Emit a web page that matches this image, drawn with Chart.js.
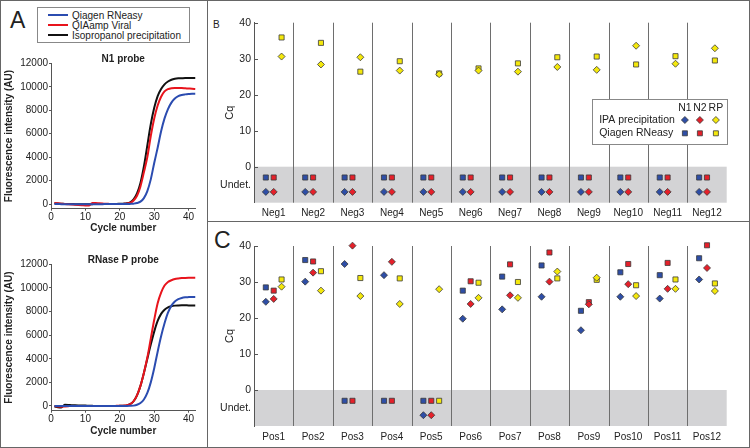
<!DOCTYPE html>
<html>
<head>
<meta charset="utf-8">
<script src="https://cdn.jsdelivr.net/npm/chart.js@4.4.0/dist/chart.umd.min.js"></script>
<style>
  body { margin: 0; background: #fff; }
  #page { position: relative; width: 750px; height: 448px; overflow: hidden; font-family: 'Liberation Sans', Arial, sans-serif; color: #222; }
  canvas { position: absolute; }
  .line { position: absolute; background: #666; }
  .letter { position: absolute; line-height: 1; color: #222; }
  #legA { position: absolute; left: 37px; top: 7px; width: 153px; height: 36px; box-sizing: border-box; border: 1px solid #888; font-size: 10px; }
  #legA div { position: absolute; left: 10px; height: 10px; line-height: 10px; white-space: nowrap; }
  #legA span { display: inline-block; width: 20px; height: 2px; vertical-align: middle; margin-right: 4px; position: relative; top: -1px; }
</style>
</head>
<body>
<div id="page">
  <div class="line" style="left:0;top:0;width:750px;height:1px"></div>
  <div class="line" style="left:0;top:447px;width:750px;height:1px"></div>
  <div class="line" style="left:0;top:0;width:1px;height:448px"></div>
  <div class="line" style="left:749px;top:0;width:1px;height:448px"></div>
  <div class="line" style="left:207px;top:0;width:1px;height:448px"></div>
  <div class="line" style="left:207px;top:221px;width:543px;height:1px"></div>

  <div class="letter" style="left:10px;top:9px;font-size:23px">A</div>
  <div class="letter" style="left:213px;top:20px;font-size:10px">B</div>
  <div class="letter" style="left:214px;top:229px;font-size:23px">C</div>

  <div id="legA">
    <div style="top:3px"><span style="background:#2b4cb0"></span>Qiagen RNeasy</div>
    <div style="top:13px"><span style="background:#e8141c"></span>QIAamp Viral</div>
    <div style="top:23px"><span style="background:#111"></span>Isopropanol precipitation</div>
  </div>

  <canvas id="n1" width="207" height="195" style="left:0;top:45px"></canvas>
  <canvas id="rp" width="207" height="208" style="left:0;top:240px"></canvas>
  <canvas id="neg" width="543" height="221" style="left:207px;top:0"></canvas>
  <canvas id="pos" width="543" height="227" style="left:207px;top:221px"></canvas>
</div>
<script>
const FONT = "'Liberation Sans', Arial, sans-serif";
Chart.defaults.font.family = FONT;
Chart.defaults.color = '#222';

// ---- panel A: amplification curves ----
const cycles = [1, 2, 3, 4, 5, 6, 7, 8, 9, 10, 11, 12, 13, 14, 15, 16, 17, 18, 19, 20, 21,
  22, 23, 24, 25, 26, 27, 28, 29, 30, 31, 32, 33, 34, 35, 36, 37, 38, 39, 40, 41, 42];
const cycleTicks = [0, 10, 20, 30, 40];
const fluoTicks = [0, 2000, 4000, 6000, 8000, 10000, 12000];

const n1Qiagen = [0, 0, -10, -10, -20, -20, -20, -20, -20, -20, -20, -20, -10, -10, -10, 0, 0, 0, 0, 0, 0,
  0, 10, 30, 80, 200, 500, 1100, 2100, 3500, 4800, 6200, 7300, 8100, 8650, 9000, 9200, 9300, 9350, 9380, 9400, 9400];
const n1Qiaamp = [80, 60, 30, 0, -20, -40, -60, -80, -100, -120, -130, 90, 80, 60, 40, 20, 10, 0, 0, 0, 10,
  30, 100, 300, 700, 1500, 2700, 4000, 5800, 7300, 8400, 9150, 9600, 9800, 9880, 9900, 9900, 9890, 9870, 9850, 9830, 9800];
const n1Ipa = [60, 40, 20, 10, 0, 0, -10, -10, -20, -20, -20, -10, 0, 0, 0, 0, 0, 10, 10, 20, 30,
  60, 150, 400, 900, 1800, 3200, 5000, 6800, 8200, 9200, 9800, 10200, 10450, 10600, 10680, 10720, 10730, 10740, 10740, 10740, 10740];

const rpQiagen = [0, 0, 0, 0, 0, 0, 0, 0, 0, 0, 0, 0, 0, 0, 0, 0, 0, 0, 0, 0, 0,
  0, 10, 30, 100, 250, 550, 1100, 2000, 3200, 4600, 5900, 7000, 7900, 8500, 8850, 9050, 9150, 9200, 9220, 9230, 9230];
const rpQiaamp = [0, -50, -60, -40, -20, 0, 0, 0, 0, 0, 0, 0, 0, 0, 0, 0, 0, 0, 10, 20, 30,
  60, 150, 400, 900, 1700, 2800, 4100, 5700, 7300, 8700, 9600, 10200, 10500, 10650, 10750, 10800, 10830, 10850, 10860, 10860, 10860];
const rpIpa = [-50, -100, -120, 100, 90, 70, 60, 50, 40, 30, 20, 10, 0, 0, 0, 0, 0, 0, 0, 10, 20,
  50, 150, 400, 900, 1700, 2800, 4000, 5200, 6300, 7200, 7800, 8150, 8350, 8450, 8500, 8520, 8530, 8530, 8520, 8520, 8510];

// ---- panels B, C: Cq values (null = undetermined) ----
const negSamples = ['Neg1', 'Neg2', 'Neg3', 'Neg4', 'Neg5', 'Neg6', 'Neg7', 'Neg8', 'Neg9', 'Neg10', 'Neg11', 'Neg12'];
const posSamples = ['Pos1', 'Pos2', 'Pos3', 'Pos4', 'Pos5', 'Pos6', 'Pos7', 'Pos8', 'Pos9', 'Pos10', 'Pos11', 'Pos12'];
const cqTicks = [-5, 0, 10, 20, 30, 40];

const negN1Ipa = [null, null, null, null, null, null, null, null, null, null, null, null];
const negN1Qiagen = [null, null, null, null, null, null, null, null, null, null, null, null];
const negN2Ipa = [null, null, null, null, null, null, null, null, null, null, null, null];
const negN2Qiagen = [null, null, null, null, null, null, null, null, null, null, null, null];
const negRpIpa = [30.6, 28.4, 30.4, 26.7, 25.7, 26.7, 26.4, 27.7, 26.9, 33.6, 28.6, 32.9];
const negRpQiagen = [35.9, 34.4, 26.4, 29.3, 25.9, 27.3, 28.7, 30.4, 30.6, 28.4, 30.7, 29.5];

const posN1Ipa = [24.5, 30.1, 35.0, 31.9, null, 19.8, 22.4, 25.9, 16.6, 25.9, 25.4, 30.7];
const posN1Qiagen = [28.5, 36.1, null, null, null, 27.6, 31.5, 34.6, 22.0, 32.7, 31.9, 36.6];
const posN2Ipa = [25.3, 32.6, 40.1, 35.6, null, 23.9, 26.3, 30.1, 23.8, 29.4, 28.1, 33.9];
const posN2Qiagen = [27.6, 35.7, null, null, null, 30.2, 34.9, 38.2, 24.4, 35.0, 35.3, 40.2];
const posRpIpa = [28.7, 27.6, 26.1, 23.9, 28.0, 25.6, 25.6, 32.9, 31.2, 26.1, 28.1, 27.5];
const posRpQiagen = [30.7, 33.0, 31.1, 31.0, null, 29.8, 30.0, 31.0, 30.6, 29.1, 30.7, 29.6];

const BLUE = '#2e4ea6', RED = '#e5202a', YELLOW = '#f4e80c', EDGE = '#3a3a3a';

// titre au-dessus de la zone de tracé
const panelTitle = {
  id: 'panelTitle',
  afterDraw(chart, args, opts) {
    const { ctx, chartArea } = chart;
    ctx.save();
    ctx.font = 'bold 10px ' + FONT;
    ctx.fillStyle = '#222';
    ctx.textAlign = 'center';
    ctx.textBaseline = 'middle';
    ctx.fillText(opts.text, (chartArea.left + chartArea.right) / 2, chartArea.top - 4);
    ctx.restore();
  }
};

function curveChart(id, title, curves, pad, xH, titlePadB) {
  new Chart(document.getElementById(id), {
    type: 'line',
    data: {
      datasets: curves.map(c => ({
        data: c.values.map((v, i) => ({ x: cycles[i], y: v })),
        borderColor: c.color,
        borderWidth: 2,
        pointRadius: 0,
        cubicInterpolationMode: 'monotone'
      }))
    },
    options: {
      responsive: false, animation: false, devicePixelRatio: 1,
      layout: { padding: pad },
      plugins: { legend: { display: false }, tooltip: { enabled: false }, panelTitle: { text: title } },
      scales: {
        x: {
          type: 'linear', min: 0, max: 42,
          afterBuildTicks: s => { s.ticks = cycleTicks.map(v => ({ value: v })); },
          afterFit: s => { s.height = xH; },
          grid: { drawOnChartArea: false, tickLength: 2, color: '#555' },
          border: { color: '#555' },
          ticks: { padding: 1, maxRotation: 0, font: { size: 10 }, callback: v => String(v) },
          title: { display: true, text: 'Cycle number', font: { size: 10, weight: 'bold' }, padding: { top: 0, bottom: titlePadB } }
        },
        y: {
          min: -400, max: 12000,
          afterBuildTicks: s => { s.ticks = fluoTicks.map(v => ({ value: v })); },
          afterFit: s => { s.width = 51; },
          grid: { drawOnChartArea: false, tickLength: 2, color: '#555' },
          border: { color: '#555' },
          ticks: { padding: 1, font: { size: 10 }, callback: v => String(v) },
          title: { display: true, text: 'Fluorescence intensity (AU)', font: { size: 10, weight: 'bold' }, padding: { top: 3, bottom: 0 } }
        }
      }
    },
    plugins: [panelTitle]
  });
}

curveChart('n1', 'N1 probe', [
  { values: n1Qiagen, color: '#2b4cb0' },
  { values: n1Qiaamp, color: '#e8141c' },
  { values: n1Ipa, color: '#111' }
], { top: 18.3, right: 11.5, bottom: 3, left: 0 }, 28.3, 2.5);

curveChart('rp', 'RNase P probe', [
  { values: rpQiagen, color: '#2b4cb0' },
  { values: rpQiaamp, color: '#e8141c' },
  { values: rpIpa, color: '#111' }
], { top: 24.3, right: 11.5, bottom: 8, left: 0 }, 29.3, 2.7);

// ---- Cq panels ----
function drawMarker(ctx, style, x, y, fill) {
  ctx.beginPath();
  if (style === 'rectRot') {
    ctx.moveTo(x - 3.5, y); ctx.lineTo(x, y - 3.5); ctx.lineTo(x + 3.5, y); ctx.lineTo(x, y + 3.5); ctx.closePath();
  } else {
    ctx.rect(x - 2.5, y - 2.5, 5, 5);
  }
  ctx.fillStyle = fill; ctx.fill();
  ctx.lineWidth = 0.8; ctx.strokeStyle = EDGE; ctx.stroke();
}

const cqDecor = {
  id: 'cqDecor',
  beforeDraw(chart) {
    const { ctx, chartArea: a, scales: { y } } = chart;
    ctx.save();
    ctx.fillStyle = '#d3d3d5';
    ctx.fillRect(a.left, y.getPixelForValue(0), a.right - a.left, a.bottom - y.getPixelForValue(0));
    ctx.restore();
  },
  beforeDatasetsDraw(chart) {
    const { ctx, chartArea: a, scales: { x, y } } = chart;
    ctx.save();
    ctx.strokeStyle = '#6e6e6e';
    ctx.lineWidth = 1;
    for (let i = 1; i < 12; i++) {
      const px = Math.round(x.getPixelForValue(i + 0.5)) + 0.5;
      ctx.beginPath(); ctx.moveTo(px, a.top); ctx.lineTo(px, a.bottom); ctx.stroke();
    }
    ctx.strokeStyle = '#555';
    [0, 10, 20, 30, 40].forEach(v => {
      const py = Math.round(y.getPixelForValue(v)) + 0.5;
      ctx.beginPath(); ctx.moveTo(a.left, py); ctx.lineTo(a.left + 4, py); ctx.stroke();
    });
    ctx.restore();
  },
  afterDatasetsDraw(chart, args, opts) {
    if (!opts.legend) return;
    const { ctx, chartArea: a } = chart;
    const r = a.right + 0.5, l = r - 135, t = a.top + 76.6, h = 44.7;
    ctx.save();
    ctx.fillStyle = '#fff';
    ctx.fillRect(l, t, r - l, h);
    ctx.strokeStyle = '#888'; ctx.lineWidth = 1;
    ctx.strokeRect(Math.round(l) + 0.5, Math.round(t) + 0.5, Math.round(r - l), Math.round(h));
    ctx.font = '10.5px ' + FONT;
    ctx.fillStyle = '#222';
    ctx.textBaseline = 'middle';
    const cols = [r - 42.3, r - 27.3, r - 11.3];
    ctx.textAlign = 'center';
    ['N1', 'N2', 'RP'].forEach((s, i) => ctx.fillText(s, cols[i], t + 9));
    ctx.textAlign = 'left';
    ctx.fillText('IPA precipitation', l + 7, t + 20.7);
    ctx.fillText('Qiagen RNeasy', l + 7, t + 34);
    [BLUE, RED, YELLOW].forEach((c, i) => {
      drawMarker(ctx, 'rectRot', cols[i], t + 20.7, c);
      drawMarker(ctx, 'rect', cols[i], t + 34, c);
    });
    ctx.restore();
  }
};

// undetermined values sit on a fixed row of the grey band
const UNDET_ROW = { rect: -3, rectRot: -7 };
const OFFSET = { N1: -0.2, N2: 0, RP: 0.2 };

function cqSet(values, target, style, color) {
  return {
    data: values.map((v, i) => ({ x: i + 1 + OFFSET[target], y: v === null ? UNDET_ROW[style] : v })),
    pointStyle: style,
    pointRadius: style === 'rect' ? 3.6 : 3.5,
    backgroundColor: color,
    borderColor: EDGE,
    borderWidth: 0.8,
    clip: false
  };
}

function cqChart(id, samples, sets, pad, xH, legend) {
  new Chart(document.getElementById(id), {
    type: 'scatter',
    data: { datasets: sets },
    options: {
      responsive: false, animation: false, devicePixelRatio: 1,
      layout: { padding: pad },
      plugins: { legend: { display: false }, tooltip: { enabled: false }, cqDecor: { legend } },
      scales: {
        x: {
          type: 'linear', min: 0.5, max: 12.5,
          afterBuildTicks: s => { s.ticks = samples.map((n, i) => ({ value: i + 1 })); },
          afterFit: s => { s.height = xH; },
          grid: { display: false, drawTicks: false },
          border: { display: false },
          ticks: { padding: 5, maxRotation: 0, autoSkip: false, font: { size: 10 }, callback: v => samples[v - 1] }
        },
        y: {
          min: -10, max: 40,
          afterBuildTicks: s => { s.ticks = cqTicks.map(v => ({ value: v })); },
          afterFit: s => { s.width = 47; },
          grid: { display: false, drawTicks: false },
          border: { display: true, color: '#555', width: 1 },
          ticks: { padding: 3, font: { size: 10.5 }, callback: v => (v < 0 ? 'Undet.' : String(v)) },
          title: { display: true, text: 'Cq', font: { size: 11 }, padding: { top: 16, bottom: 0 } }
        }
      }
    },
    plugins: [cqDecor]
  });
}

// diamonds first so they are drawn over the squares
cqChart('neg', negSamples, [
  cqSet(negN1Ipa, 'N1', 'rectRot', BLUE),
  cqSet(negN2Ipa, 'N2', 'rectRot', RED),
  cqSet(negRpIpa, 'RP', 'rectRot', YELLOW),
  cqSet(negN1Qiagen, 'N1', 'rect', BLUE),
  cqSet(negN2Qiagen, 'N2', 'rect', RED),
  cqSet(negRpQiagen, 'RP', 'rect', YELLOW)
], { top: 22.7, right: 23.3, bottom: 0, left: 0 }, 18.3, true);

cqChart('pos', posSamples, [
  cqSet(posN1Ipa, 'N1', 'rectRot', BLUE),
  cqSet(posN2Ipa, 'N2', 'rectRot', RED),
  cqSet(posRpIpa, 'RP', 'rectRot', YELLOW),
  cqSet(posN1Qiagen, 'N1', 'rect', BLUE),
  cqSet(posN2Qiagen, 'N2', 'rect', RED),
  cqSet(posRpQiagen, 'RP', 'rect', YELLOW)
], { top: 25, right: 23.3, bottom: 0, left: 0 }, 22, false);
</script>
</body>
</html>
